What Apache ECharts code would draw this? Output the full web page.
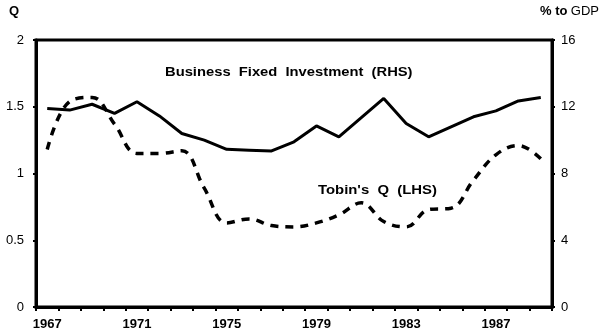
<!DOCTYPE html>
<html><head><meta charset="utf-8">
<script src="https://cdn.jsdelivr.net/npm/echarts@6/dist/echarts.min.js"></script>
<style>html,body{margin:0;padding:0;background:#fff}#c{width:600px;height:335px}</style>
</head><body><div id="c"></div>
<script>
const years = ['1967','1968','1969','1970','1971','1972','1973','1974','1975','1976','1977','1978','1979','1980','1981','1982','1983','1984','1985','1986','1987','1988','1989'];
const investment = [11.9,11.8,12.15,11.6,12.3,11.45,10.4,10.0,9.45,9.4,9.35,9.9,10.85,10.2,11.35,12.5,11.0,10.2,10.8,11.4,11.75,12.35,12.55];
const tobinsQ = [1.18,1.54,1.57,1.37,1.15,1.15,1.17,0.89,0.63,0.66,0.61,0.6,0.63,0.69,0.78,0.64,0.6,0.73,0.74,0.95,1.14,1.21,1.11];
const leftTicks = [0,0.5,1,1.5,2];
const rightTicks = [0,4,8,12,16];
const font = 'Liberation Sans, Arial, sans-serif';
const chart = echarts.init(document.getElementById('c'));
chart.setOption({
  animation:false,
  backgroundColor:'#fff',
  grid:{left:36,right:48,top:40,bottom:28,show:true,borderColor:'#000',borderWidth:3,backgroundColor:'transparent'},
  graphic:[
    {type:'text',left:9,top:5,style:{text:'Q',font:'bold 13px '+font,fill:'#000'}},
    {type:'text',right:1,top:5,style:{text:'{b|% to} {r|GDP}',rich:{b:{font:'bold 13px '+font,fill:'#000',color:'#000'},r:{font:'13px '+font,color:'#000'}}}},
    {type:'text',x:165,y:66,scaleX:1.18,style:{text:'Business  Fixed  Investment  (RHS)',font:'bold 12.5px '+font,fill:'#000'}},
    {type:'text',x:318,y:184,scaleX:1.19,style:{text:"Tobin's  Q  (LHS)",font:'bold 12.5px '+font,fill:'#000'}}
  ],
  xAxis:{type:'category',data:years,boundaryGap:true,
    axisLine:{lineStyle:{color:'#000',width:3}},
    axisTick:{show:true,length:4,lineStyle:{color:'#000',width:2},interval:0},
    axisLabel:{interval:3,margin:11,color:'#000',fontSize:13,fontWeight:'bold',fontFamily:font},
    splitLine:{show:false}},
  yAxis:[
    {type:'value',min:leftTicks[0],max:leftTicks[leftTicks.length-1],interval:0.5,position:'left',
      axisLine:{show:true,lineStyle:{color:'#000',width:3}},
      axisTick:{show:true,inside:false,length:3,lineStyle:{color:'#000',width:2}},
      axisLabel:{color:'#000',fontSize:13,fontFamily:font,margin:12,
        formatter:v=>leftTicks.includes(v)?String(v):''},
      splitLine:{show:false}},
    {type:'value',min:rightTicks[0],max:rightTicks[rightTicks.length-1],interval:4,position:'right',
      axisLine:{show:true,lineStyle:{color:'#000',width:3}},
      axisTick:{show:true,inside:false,length:3,lineStyle:{color:'#000',width:2}},
      axisLabel:{color:'#000',fontSize:13,fontFamily:font,margin:9},
      splitLine:{show:false}}
  ],
  series:[
    {type:'line',name:'Business Fixed Investment (RHS)',yAxisIndex:1,data:investment,symbol:'none',
      lineStyle:{color:'#000',width:3}},
    {type:'line',name:"Tobin's Q (LHS)",yAxisIndex:0,data:tobinsQ,symbol:'none',smooth:0.4,
      lineStyle:{color:'#000',width:3.5,type:[8,7]}}
  ]
});
</script></body></html>
